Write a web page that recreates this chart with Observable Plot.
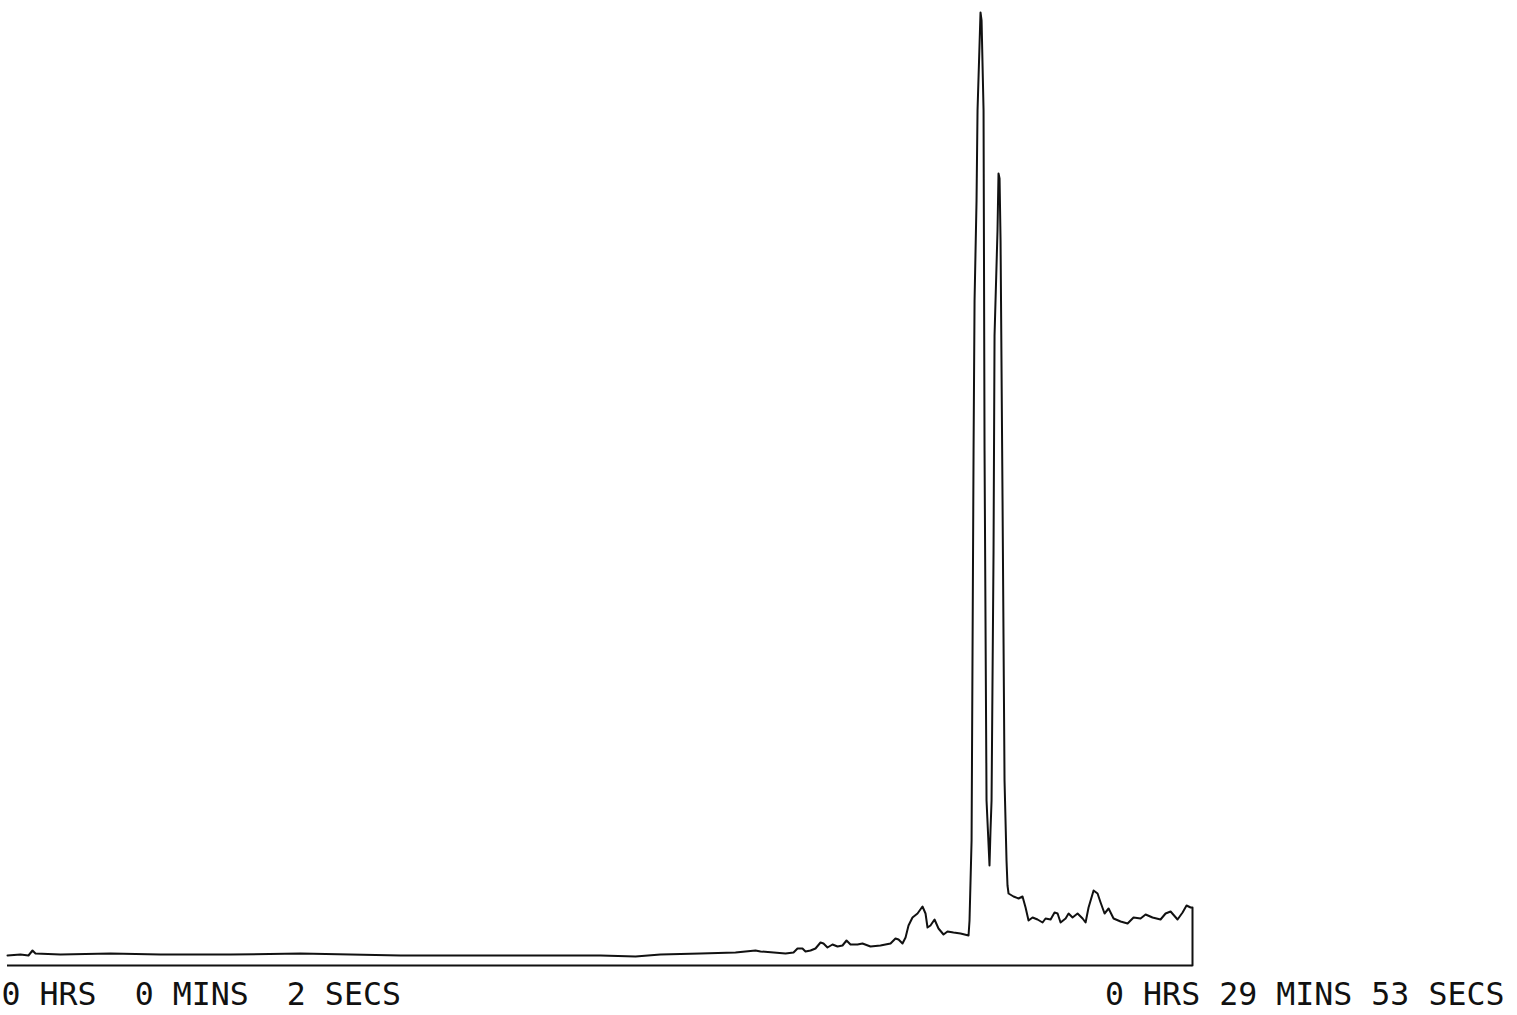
<!DOCTYPE html>
<html>
<head>
<meta charset="utf-8">
<script src="https://cdn.jsdelivr.net/npm/d3@7"></script>
<script src="https://cdn.jsdelivr.net/npm/@observablehq/plot@0.6"></script>
<style>
  html, body { margin: 0; padding: 0; background: #fff; }
  #chart svg text { white-space: pre; }
</style>
</head>
<body>
<div id="chart"></div>
<script>
// Detector trace: retention time (s) and response (arbitrary units)
const times = [
  2, 21.6, 33.7, 39.8, 44.3, 82.1, 157.7, 233.2, 339.0, 444.8, 596.0, 747.1, 898.3,
  951.2, 988.9, 1049.4, 1102.3, 1132.5, 1140.1, 1177.9, 1190.0,
  1196.0, 1203.5, 1208.1, 1215.7, 1223.2, 1230.8, 1235.3, 1241.3, 1248.9, 1256.5,
  1264.0, 1270.1, 1276.1, 1286.7, 1294.2, 1306.3, 1321.4, 1336.6, 1344.1, 1348.7,
  1354.7, 1359.3, 1363.8, 1369.8, 1377.4, 1384.9, 1389.5, 1392.5, 1397.0, 1403.1,
  1409.1, 1416.7, 1422.7, 1431.8, 1442.4, 1454.5,
  1456.0, 1459.1, 1462.1, 1463.6, 1466.6, 1468.1, 1472.6, 1474.2, 1477.2, 1478.7,
  1481.7, 1486.2, 1487.7, 1489.3, 1492.3, 1493.8, 1498.3, 1499.8, 1501.4, 1502.9,
  1505.9, 1508.9, 1511.9, 1513.4,
  1515.0, 1522.5, 1530.1, 1536.1, 1540.7, 1545.2, 1551.3, 1558.8, 1566.4, 1570.9,
  1578.5, 1584.5, 1589.1, 1593.6, 1601.2, 1605.7, 1611.7, 1619.3, 1626.9, 1631.4,
  1635.9, 1643.5, 1649.5, 1654.1, 1660.1, 1666.2, 1673.7, 1684.3, 1694.9, 1703.9,
  1714.5, 1722.1, 1732.6, 1744.7, 1752.3, 1759.9, 1770.4, 1778.0, 1784.0, 1790.1,
  1793, 1793
];
const signal = [
  10, 11, 10, 15, 12, 11, 12, 11, 11, 12, 10, 10, 10,
  9, 11, 12, 13, 15, 14, 12, 13,
  17, 17, 14, 15, 17, 23, 22, 18, 21, 19,
  20, 25, 21, 21, 22, 19, 20, 22, 27, 26,
  22, 28, 40, 48, 52, 59, 52, 38, 40, 46,
  37, 31, 34, 33, 32, 30,
  45, 125, 515, 665, 765, 855, 953, 945, 855, 515,
  165, 100, 135, 165, 415, 630, 735, 792, 787, 725,
  465, 185, 105, 80,
  72, 69, 67, 69, 58, 45, 48, 46, 43, 47,
  46, 53, 52, 43, 47, 52, 48, 52, 47, 43,
  58, 75, 72, 63, 52, 57, 47, 44, 42, 48,
  47, 51, 48, 46, 52, 54, 46, 53, 60, 58,
  58, 0
];

// Run window and its printed time stamps
const runStart = 2;
const runEnd = 1793;
const startLabel = "0 HRS  0 MINS  2 SECS";
const endLabel = "0 HRS 29 MINS 53 SECS";

const trace = times.map((t, i) => ({t, v: signal[i]}));

const ink = "#111";
const font = "DejaVu Sans Mono";

const chart = Plot.plot({
  width: 1517,
  height: 1015,
  marginLeft: 7,
  marginRight: 325,
  marginTop: 10,
  marginBottom: 50,
  x: {domain: [runStart, runEnd], axis: null},
  y: {domain: [0, 955], axis: null},
  marks: [
    Plot.ruleY([0], {stroke: ink, strokeWidth: 2}),
    Plot.line(trace, {x: "t", y: "v", stroke: ink, strokeWidth: 2, strokeLinejoin: "round"}),
    Plot.text([startLabel], {
      text: d => d, frameAnchor: "bottom-left", textAnchor: "start", lineAnchor: "bottom",
      dx: -6, dy: 39, fontSize: 31.6, fontFamily: font, fill: ink
    }),
    Plot.text([endLabel], {
      text: d => d, frameAnchor: "bottom-right", textAnchor: "end", lineAnchor: "bottom",
      dx: 312, dy: 39, fontSize: 31.6, fontFamily: font, fill: ink
    })
  ]
});

document.getElementById("chart").appendChild(chart);
</script>
</body>
</html>
